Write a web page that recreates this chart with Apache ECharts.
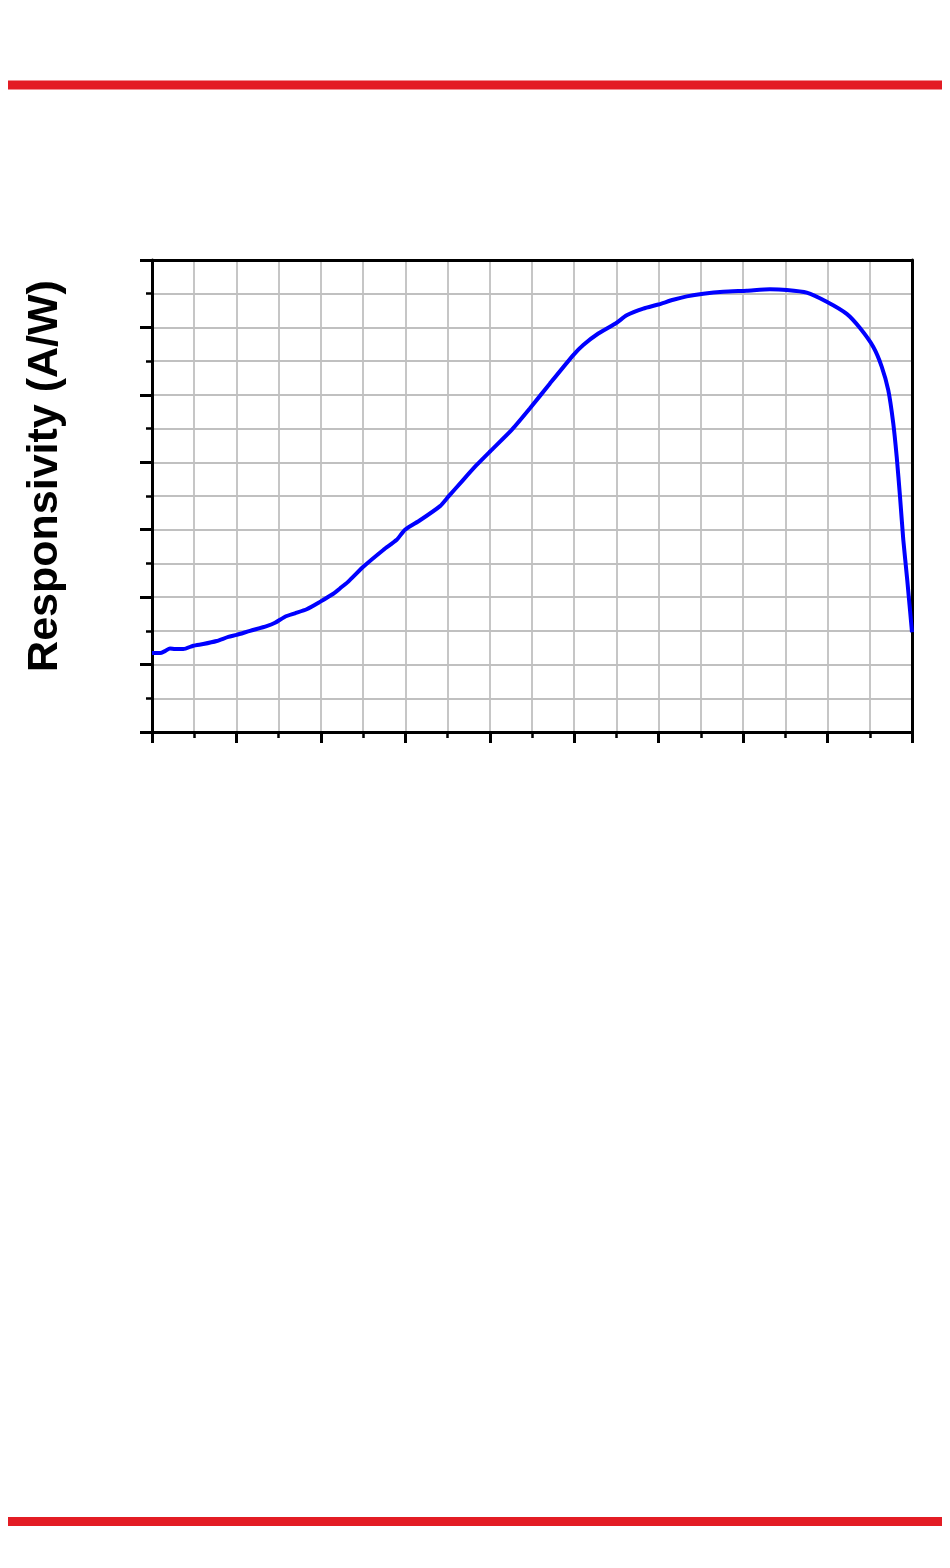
<!DOCTYPE html>
<html>
<head>
<meta charset="utf-8">
<style>
  html, body { margin: 0; padding: 0; background: #ffffff; }
  #chart { width: 950px; height: 1568px; }
</style>
<script src="https://cdn.jsdelivr.net/npm/echarts@6/dist/echarts.min.js"></script>
</head>
<body>
<div id="chart"></div>
<script>
// Wavelength (nm)
const wavelengths = [200, 209.5, 215.4, 221.3, 227.2, 237.1, 248.9, 260.7, 276.6, 290.4,
  300.3, 316.1, 335.8, 345.7, 357.5, 369.3, 383.2, 398.9, 414.7, 424.6,
  432.5, 450.2, 473.9, 489.8, 499.6, 517.4, 541.1, 550.9, 568.6, 584.5,
  600.3, 626.0, 647.6, 671.3, 698.9, 710.7, 728.5, 750.3, 762.1, 781.8,
  799.6, 817.3, 833.2, 852.9, 876.5, 904.2, 931.8, 951.6, 975.3, 999.0,
  1022.7, 1038.4, 1054.2, 1064.1, 1071.9, 1077.8, 1081.9, 1085.8, 1089.7, 1094.4, 1100];
// Responsivity (A/W)
const responsivity = [0.117, 0.117, 0.120, 0.124, 0.123, 0.123, 0.128, 0.1305, 0.135, 0.141,
  0.144, 0.150, 0.157, 0.162, 0.171, 0.176, 0.182, 0.193, 0.205, 0.215,
  0.223, 0.245, 0.270, 0.285, 0.300, 0.314, 0.335, 0.349, 0.374, 0.396,
  0.416, 0.448, 0.480, 0.517, 0.559, 0.574, 0.591, 0.607, 0.618, 0.628,
  0.634, 0.641, 0.646, 0.650, 0.653, 0.6545, 0.6565, 0.6555, 0.6515, 0.638,
  0.620, 0.599, 0.571, 0.542, 0.507, 0.458, 0.408, 0.349, 0.285, 0.225, 0.148];
const yAxisTitle = 'Responsivity (A/W)';

const seriesData = wavelengths.map((w, i) => [w, responsivity[i]]);

const chart = echarts.init(document.getElementById('chart'), null, { renderer: 'canvas' });
const gridColor = '#c0c0c0';
const redColor = '#e31c24';

chart.setOption({
  animation: false,
  backgroundColor: '#ffffff',
  grid: { left: 152, right: 38, top: 260, bottom: 836, containLabel: false },
  graphic: [
    { type: 'rect', shape: { x: 8, y: 80.5, width: 934, height: 9 }, style: { fill: redColor } },
    { type: 'rect', shape: { x: 8, y: 1517, width: 934, height: 9 }, style: { fill: redColor } },
    {
      type: 'text', x: 45, y: 476, rotation: Math.PI / 2,
      style: {
        text: yAxisTitle, fill: '#000',
        font: 'bold 43px "Liberation Sans", Arial, sans-serif',
        textAlign: 'center', textVerticalAlign: 'middle'
      }
    }
  ],
  xAxis: [
    {
      type: 'value', min: 200, max: 1100, interval: 100, position: 'bottom',
      axisLine: { show: true, onZero: false, lineStyle: { color: '#000', width: 3 } },
      axisTick: { show: true, inside: false, length: 11, lineStyle: { color: '#000', width: 3 } },
      minorTick: { show: true, splitNumber: 2, length: 6, lineStyle: { color: '#000', width: 2.5 } },
      axisLabel: { show: false },
      splitLine: { show: true, lineStyle: { color: gridColor, width: 1.8 } },
      minorSplitLine: { show: true, lineStyle: { color: gridColor, width: 1.8 } }
    },
    {
      type: 'value', min: 200, max: 1100, interval: 100, position: 'top',
      axisLine: { show: true, onZero: false, lineStyle: { color: '#000', width: 3 } },
      axisTick: { show: false }, axisLabel: { show: false }, splitLine: { show: false }
    }
  ],
  yAxis: [
    {
      type: 'value', min: 0, max: 0.7, interval: 0.1, position: 'left',
      axisLine: { show: true, onZero: false, lineStyle: { color: '#000', width: 3 } },
      axisTick: { show: true, inside: false, length: 12, lineStyle: { color: '#000', width: 3 } },
      minorTick: { show: true, splitNumber: 2, length: 6, lineStyle: { color: '#000', width: 2.5 } },
      axisLabel: { show: false },
      splitLine: { show: true, lineStyle: { color: gridColor, width: 1.8 } },
      minorSplitLine: { show: true, lineStyle: { color: gridColor, width: 1.8 } }
    },
    {
      type: 'value', min: 0, max: 0.7, interval: 0.1, position: 'right',
      axisLine: { show: true, onZero: false, lineStyle: { color: '#000', width: 3 } },
      axisTick: { show: false }, axisLabel: { show: false }, splitLine: { show: false }
    }
  ],
  series: [
    {
      type: 'line', xAxisIndex: 0, yAxisIndex: 0,
      data: seriesData,
      showSymbol: false, smooth: 0.2,
      lineStyle: { color: '#0000ff', width: 4 },
      z: 5
    }
  ]
});
</script>
</body>
</html>
